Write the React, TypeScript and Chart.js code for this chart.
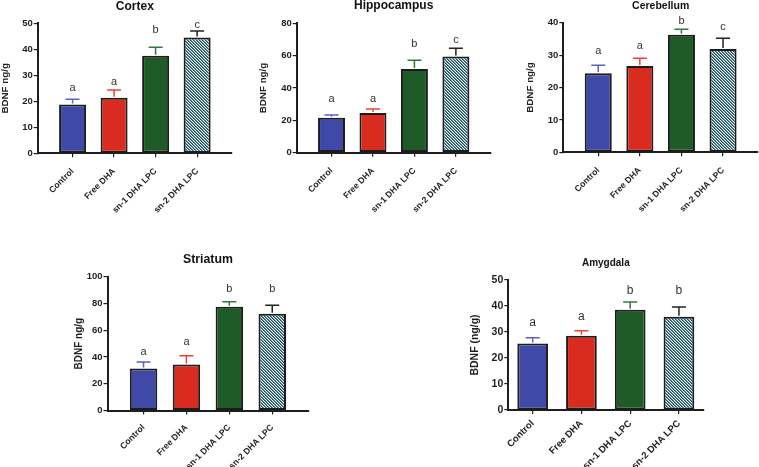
import { useEffect, useRef } from 'react';
import { Chart, registerables } from 'chart.js';

Chart.register(...registerables);

const categories = ['Control', 'Free DHA', 'sn-1 DHA LPC', 'sn-2 DHA LPC'];

const cortexMean = [18.8, 21.4, 37.5, 44.5];
const cortexErr = [2.0, 2.9, 3.3, 2.5];
const cortexLetters = ['a', 'a', 'b', 'c'];
const cortexLetterY = [25.1, 27.4, 47.4, 49.3];

const hippoMean = [21.6, 24.5, 51.7, 59.4];
const hippoErr = [1.7, 2.5, 5.4, 5.1];
const hippoLetters = ['a', 'a', 'b', 'c'];
const hippoLetterY = [33, 33, 67.4, 69.7];

const cerebMean = [24.4, 26.6, 36.3, 31.9];
const cerebErr = [2.5, 2.4, 1.7, 3.3];
const cerebLetters = ['a', 'a', 'b', 'c'];
const cerebLetterY = [31.3, 32.9, 40.6, 38.8];

const striMean = [31.4, 34.4, 77.5, 72.3];
const striErr = [4.8, 6.5, 3.8, 6.3];
const striLetters = ['a', 'a', 'b', 'b'];
const striLetterY = [43.9, 51.3, 90.8, 90.6];

const amygMean = [25.6, 28.6, 38.6, 35.9];
const amygErr = [2.2, 1.9, 2.9, 3.7];
const amygLetters = ['a', 'a', 'b', 'b'];
const amygLetterY = [33.7, 35.7, 45.9, 45.9];

const FONT = "'Liberation Sans', Arial, Helvetica, sans-serif";
const AXIS = '#1e1e1e';
const BAR_COLORS = ['#3f49a8', '#d92b1f', '#1f5b27'];
const ERR_COLORS = ['#5a62c4', '#e8443a', '#2f7a3a', '#222222'];
const HATCH = '#15505f';
const HATCH_MID = '#5f8a97';

type Panel = {
  title: string; yTitle: string; max: number; step: number;
  mean: number[]; err: number[]; letters: string[]; letterY: number[];
  cx: number; cy: number; cw: number; ch: number;
  L: number; T: number; R: number; B: number;
  pad: number; barPct: number;
  titleSize: number; titleBase: number;
  tickSize: number; xLabelSize: number; xPad: number; yTitleSize: number; yTitleX: number;
  letterSize: number;
};

const panels: Panel[] = [
  {
    title: 'Cortex', yTitle: 'BDNF ng/g', max: 50, step: 10,
    mean: cortexMean, err: cortexErr, letters: cortexLetters, letterY: cortexLetterY,
    cx: 0, cy: 0, cw: 250, ch: 235, L: 37.7, T: 23.3, R: 232, B: 153.3,
    pad: 0.84, barPct: 0.65, titleSize: 12, titleBase: 9.5,
    tickSize: 9.5, xLabelSize: 8.7, xPad: 9, yTitleSize: 9.8, yTitleX: 5, letterSize: 11,
  },
  {
    title: 'Hippocampus', yTitle: 'BDNF ng/g', max: 80, step: 20,
    mean: hippoMean, err: hippoErr, letters: hippoLetters, letterY: hippoLetterY,
    cx: 250, cy: 0, cw: 255, ch: 235, L: 296.7, T: 23.3, R: 490.7, B: 152.7,
    pad: 0.84, barPct: 0.65, titleSize: 12, titleBase: 9.3,
    tickSize: 9.5, xLabelSize: 8.7, xPad: 9, yTitleSize: 9.8, yTitleX: 263.3, letterSize: 11,
  },
  {
    title: 'Cerebellum', yTitle: 'BDNF ng/g', max: 40, step: 10,
    mean: cerebMean, err: cerebErr, letters: cerebLetters, letterY: cerebLetterY,
    cx: 505, cy: 0, cw: 254, ch: 235, L: 563.3, T: 22.7, R: 758, B: 152.3,
    pad: 0.84, barPct: 0.65, titleSize: 10.5, titleBase: 8.8,
    tickSize: 9.5, xLabelSize: 8.7, xPad: 9, yTitleSize: 9.8, yTitleX: 530, letterSize: 11,
  },
  {
    title: 'Striatum', yTitle: 'BDNF ng/g', max: 100, step: 20,
    mean: striMean, err: striErr, letters: striLetters, letterY: striLetterY,
    cx: 50, cy: 240, cw: 280, ch: 227, L: 107.5, T: 276.7, R: 308.3, B: 410.5,
    pad: 0.84, barPct: 0.64, titleSize: 12.3, titleBase: 262.7,
    tickSize: 9.5, xLabelSize: 8.7, xPad: 8, yTitleSize: 10, yTitleX: 78.8, letterSize: 11,
  },
  {
    title: 'Amygdala', yTitle: 'BDNF (ng/g)', max: 50, step: 10,
    mean: amygMean, err: amygErr, letters: amygLetters, letterY: amygLetterY,
    cx: 440, cy: 240, cw: 300, ch: 227, L: 508.3, T: 280, R: 703.3, B: 410,
    pad: 0.5, barPct: 0.63, titleSize: 10, titleBase: 265.5,
    tickSize: 10.5, xLabelSize: 9.5, xPad: 4, yTitleSize: 10.5, yTitleX: 475.3, letterSize: 12,
  },
];

function makeHatch(ctx: CanvasRenderingContext2D) {
  const c = document.createElement('canvas');
  c.width = 3; c.height = 3;
  const g = c.getContext('2d')!;
  g.fillStyle = '#ffffff';
  g.fillRect(0, 0, 3, 3);
  for (let y = 0; y < 3; y++) {
    for (let x = 0; x < 3; x++) {
      const d = (((x - y) % 3) + 3) % 3;
      if (d === 0) { g.fillStyle = HATCH; g.fillRect(x, y, 1, 1); }
      else if (d === 1) { g.fillStyle = HATCH_MID; g.fillRect(x, y, 1, 1); }
    }
  }
  return ctx.createPattern(c, 'repeat')!;
}

function annotPlugin(p: Panel) {
  return {
    id: 'annot' + p.title,
    afterDatasetsDraw(chart: any) {
      const { ctx, chartArea } = chart;
      const x = chart.scales.x;
      const y = chart.scales.y;
      ctx.save();
      p.mean.forEach((m, i) => {
        const px = x.getPixelForValue(i);
        const yTop = y.getPixelForValue(m);
        const yErr = y.getPixelForValue(m + p.err[i]);
        ctx.strokeStyle = ERR_COLORS[i];
        ctx.lineWidth = 1.5;
        ctx.beginPath();
        ctx.moveTo(px, yTop - 1);
        ctx.lineTo(px, yErr);
        ctx.moveTo(px - 7, yErr);
        ctx.lineTo(px + 7, yErr);
        ctx.stroke();
        ctx.fillStyle = '#333333';
        ctx.font = `${p.letterSize}px ${FONT}`;
        ctx.textAlign = 'center';
        ctx.textBaseline = 'middle';
        ctx.fillText(p.letters[i], px, y.getPixelForValue(p.letterY[i]));
      });
      ctx.fillStyle = '#111111';
      ctx.font = `bold ${p.titleSize}px ${FONT}`;
      ctx.textAlign = 'center';
      ctx.textBaseline = 'alphabetic';
      ctx.fillText(p.title, (chartArea.left + chartArea.right) / 2, p.titleBase - p.cy);
      ctx.restore();
    },
  };
}

function makeChart(canvas: HTMLCanvasElement, p: Panel) {
  const ctx = canvas.getContext('2d')!;
  const pattern = makeHatch(ctx);
  const yLH = p.yTitleSize * 1.2;
  return new Chart(canvas, {
    type: 'bar',
    data: {
      datasets: [
        {
          data: p.mean.map((v, i) => ({ x: i, y: v })),
          backgroundColor: [...BAR_COLORS, pattern],
          borderColor: '#1c1c1c',
          borderWidth: 2,
          borderSkipped: false,
          barPercentage: p.barPct,
          categoryPercentage: 1,
        } as any,
      ],
    },
    options: {
      responsive: false,
      animation: false,
      events: [],
      layout: { padding: { left: 0, top: p.T - p.cy, right: p.cx + p.cw - p.R, bottom: 0 } },
      plugins: { legend: { display: false }, tooltip: { enabled: false }, title: { display: false } },
      scales: {
        x: {
          type: 'linear',
          min: -p.pad,
          max: 3 + p.pad,
          offset: false,
          afterBuildTicks: (s: any) => { s.ticks = categories.map((_, i) => ({ value: i })); },
          afterFit: (s: any) => { s.height = p.cy + p.ch - p.B; },
          grid: { display: true, offset: false, drawOnChartArea: false, drawTicks: true, tickLength: 4, color: AXIS, lineWidth: 1.2 },
          border: { display: true, color: AXIS, width: 2 },
          ticks: {
            autoSkip: false, minRotation: 45, maxRotation: 45, padding: p.xPad, color: '#1e1e1e',
            font: { family: FONT, size: p.xLabelSize, weight: 'bold' },
            callback: (v: any) => categories[Math.round(Number(v))] ?? '',
          },
        } as any,
        y: {
          min: 0,
          max: p.max,
          afterFit: (s: any) => { s.width = p.L - p.cx; },
          grid: { display: true, drawOnChartArea: false, drawTicks: true, tickLength: 4, color: AXIS, lineWidth: 1.2 },
          border: { display: true, color: AXIS, width: 2 },
          ticks: { stepSize: p.step, padding: 1, color: '#1e1e1e', font: { family: FONT, size: p.tickSize, weight: 'bold' } },
          title: {
            display: true, text: p.yTitle, color: '#1e1e1e',
            font: { family: FONT, size: p.yTitleSize, weight: 'bold' },
            padding: { top: p.yTitleX - p.cx - yLH / 2, bottom: 0 },
          },
        } as any,
      },
    },
    plugins: [annotPlugin(p)],
  });
}

function PanelChart({ p }: { p: Panel }) {
  const ref = useRef<HTMLCanvasElement>(null);
  useEffect(() => {
    const chart = makeChart(ref.current!, p);
    return () => chart.destroy();
  }, [p]);
  return (
    <canvas
      ref={ref}
      width={p.cw}
      height={p.ch}
      style={{ position: 'absolute', left: p.cx, top: p.cy, width: p.cw, height: p.ch }}
    />
  );
}

export default function App() {
  return (
    <div style={{ position: 'absolute', left: 0, top: 0, width: 759, height: 467, background: '#ffffff', overflow: 'hidden' }}>
      {panels.map((p) => (
        <PanelChart key={p.title} p={p} />
      ))}
    </div>
  );
}
